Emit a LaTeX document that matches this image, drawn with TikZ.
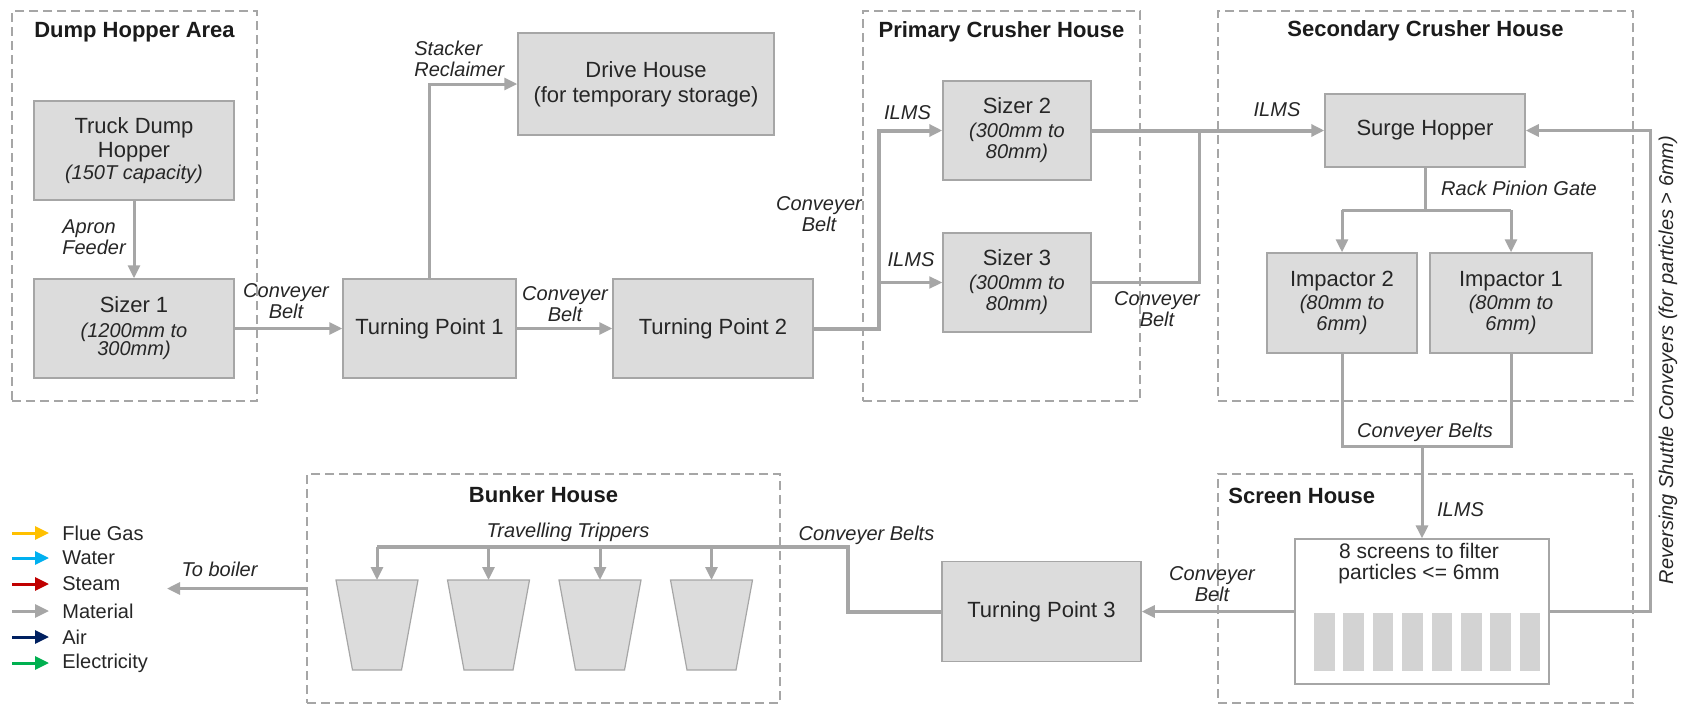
\documentclass[tikz,border=0pt]{standalone}
\usepackage{fontspec}
\setmainfont{Liberation Sans}
\usetikzlibrary{arrows.meta}

\definecolor{boxfill}{HTML}{DCDCDC}
\definecolor{boxline}{HTML}{A6A6A6}
\definecolor{flowgray}{HTML}{A6A6A6}
\definecolor{txt}{HTML}{262626}
\definecolor{barfill}{HTML}{D3D3D3}
\definecolor{fluegas}{HTML}{FFC000}
\definecolor{water}{HTML}{00B0F0}
\definecolor{steam}{HTML}{C00000}
\definecolor{air}{HTML}{002060}
\definecolor{electricity}{HTML}{00B050}

% italic size range shown under a unit name
\newcommand\subln[1]{{\fontsize{10}{10}\selectfont\itshape #1}}

\begin{document}
\begin{tikzpicture}[
  x=0.5pt, y=-0.5pt,
  box/.style={draw=boxline, fill=boxfill, line width=0.75pt, inner sep=0pt,
    align=center, text=txt, font=\fontsize{11}{11}\selectfont},
  area/.style={draw=boxline, dash pattern=on 4.5pt off 2.5pt, line width=0.9pt, inner sep=0pt},
  areatitle/.style={font=\fontsize{11}{11}\selectfont\bfseries, text=txt!70!black, inner sep=0pt},
  lbl/.style={font=\fontsize{10}{10.5}\selectfont\itshape, text=txt, inner sep=0pt, align=center},
  matline/.style={draw=flowgray, line width=1.5pt},
  matthick/.style={draw=flowgray, line width=2pt},
  matthin/.style={draw=flowgray, line width=1.1pt},
  endarrow/.style={-{Triangle[length=6.5pt,width=6pt]}},
  legtxt/.style={font=\fontsize{10}{10}\selectfont, text=txt, inner sep=0pt, anchor=west},
  legarrow/.style={line width=1.5pt, -{Triangle[length=7pt,width=6.5pt]}},
  binshape/.style={draw=boxline, fill=boxfill, line width=0.6pt},
]
\useasboundingbox (0,0) rectangle (1686,707);
\fill[white] (0,0) rectangle (1686,707);

% ---------- buildings (dashed outlines) ----------
\node[area, minimum width=122.5pt, minimum height=195pt] (dumpArea) at (134.5,206) {};
\node[area, minimum width=138.5pt, minimum height=195pt] (primaryArea) at (1001.5,206) {};
\node[area, minimum width=207.5pt, minimum height=195pt] (secondaryArea) at (1425.5,206) {};
\node[area, minimum width=236.5pt, minimum height=114.5pt] (bunkerArea) at (543.5,588.5) {};
\node[area, minimum width=207.5pt, minimum height=114.5pt] (screenArea) at (1425.5,588.5) {};

\node[areatitle] (dumpTitle) at ([yshift=-11pt]dumpArea.north) {Dump Hopper Area};
\node[areatitle] (primaryTitle) at ([yshift=-11pt]primaryArea.north) {Primary Crusher House};
\node[areatitle] (secondaryTitle) at ([yshift=-10.5pt]secondaryArea.north) {Secondary Crusher House};
\node[areatitle] (bunkerTitle) at ([yshift=-11pt]bunkerArea.north) {Bunker House};
\node[areatitle, anchor=west] (screenTitle) at (1228,496) {Screen House};

% ---------- process units ----------
\node[box, minimum width=100pt, minimum height=49.5pt] (truck) at (134,150.5)
  {Truck Dump\\[1pt]Hopper\\\subln{(150T capacity)}};
\node[box, minimum width=100pt, minimum height=49.5pt] (sizer1) at (134,328.5)
  {Sizer 1\\[1.5pt]\subln{(1200mm to}\\[-2pt]\subln{300mm)}};
\node[box, minimum width=86.5pt, minimum height=49.5pt] (tp1) at (429.5,328.5) {Turning Point 1};
\node[box, minimum width=128pt, minimum height=51pt] (drive) at (646,84)
  {Drive House\\[1.5pt](for temporary storage)};
\node[box, minimum width=100pt, minimum height=49.5pt] (tp2) at (713,328.5) {Turning Point 2};
\node[box, minimum width=74pt, minimum height=49.5pt] (sizer2) at (1017,130.5)
  {Sizer 2\\[1pt]\subln{(300mm to}\\[-0.5pt]\subln{80mm)}};
\node[box, minimum width=74pt, minimum height=49.5pt] (sizer3) at (1017,282.5)
  {Sizer 3\\[1pt]\subln{(300mm to}\\[-0.5pt]\subln{80mm)}};
\node[box, minimum width=100pt, minimum height=36.5pt] (surge) at (1425,130.5) {Surge Hopper};
\node[box, minimum width=75pt, minimum height=50pt] (imp2) at (1342,303)
  {Impactor 2\\[0.5pt]\subln{(80mm to}\\[-0.5pt]\subln{6mm)}};
\node[box, minimum width=81pt, minimum height=50pt] (imp1) at (1511,303)
  {Impactor 1\\[0.5pt]\subln{(80mm to}\\[-0.5pt]\subln{6mm)}};
\node[draw=boxline, fill=white, line width=0.6pt, minimum width=127pt, minimum height=72.5pt,
  inner sep=0pt] (screens) at (1422,611.5) {};
\node[font=\fontsize{10.5}{10.5}\selectfont, text=txt, align=center, inner sep=0pt]
  (screensTxt) at (1419,563.5) {8 screens to filter\\particles <= 6mm};
\foreach \i in {0,...,7}
  \fill[barfill] ({1314+29.4*\i},613) rectangle ++(20.5,58);
\node[box, minimum width=99.5pt, minimum height=50pt] (tp3) at (1041.5,611.5) {Turning Point 3};

% coal bunkers: tapered bins, named by the middle of their top edge
\coordinate (bin1) at (377,580);
\coordinate (bin2) at (488.5,580);
\coordinate (bin3) at (600,580);
\coordinate (bin4) at (711.5,580);
\foreach \b in {bin1,bin2,bin3,bin4}
  \draw[binshape] ([xshift=-20.5pt]\b) -- ([xshift=20.5pt]\b)
    -- ([xshift=12.25pt,yshift=-45pt]\b) -- ([xshift=-12.25pt,yshift=-45pt]\b) -- cycle;

% ---------- material flow ----------
\draw[matline, endarrow] (truck) -- (sizer1);
\draw[matline, endarrow] (sizer1) -- (tp1);
\draw[matline, endarrow] (tp1.north) |- (drive.west);
\draw[matline, endarrow] (tp1) -- (tp2);

\coordinate (splitA) at (879,328.5);
\draw[matthick, endarrow] (tp2.east) -- (splitA) |- (sizer2.west);
\draw[matthin, endarrow] (splitA |- sizer3.west) -- (sizer3.west);

\coordinate (joinA) at (1199,130.5);
\draw[matthick, endarrow] (sizer2.east) -- (surge.west);
\draw[matline] (sizer3.east) -| (joinA);

\coordinate (gateA) at (1425,210);
\draw[matline] (surge.south) -- (gateA);
\draw[matline] (imp2.north |- gateA) -- (imp1.north |- gateA);
\draw[matline, endarrow] (imp2.north |- gateA) -- (imp2.north);
\draw[matline, endarrow] (imp1.north |- gateA) -- (imp1.north);

\coordinate (collectA) at (1422,446);
\draw[matline] (imp2.south) |- (collectA) -| (imp1.south);
\draw[matline, endarrow] (collectA) -- (screens.north);

\draw[matline, endarrow] (screens.west) -- (tp3.east);
\coordinate (shuttleA) at (1650,611.5);
\draw[matline, endarrow] (screens.east) -- (shuttleA) |- (surge.east);

\coordinate (tripR) at (848,547);
\coordinate (tripL) at (377,547);
\draw[matthick] (tp3.west) -| (tripR) -- (tripL);
\foreach \b in {bin1,bin2,bin3,bin4}
  \draw[matline, endarrow] (\b |- tripL) -- (\b);

\coordinate (boilerEnd) at (167,588.5);
\draw[matline, endarrow] (bunkerArea.west) -- (boilerEnd);

% ---------- connector labels ----------
\node[lbl, anchor=west, align=left] (apronLbl) at (62,237) {Apron\\Feeder};
\node[lbl] (beltA) at (286,301.5) {Conveyer\\Belt};
\node[lbl, anchor=west, align=left] (stackerLbl) at (414,59) {Stacker\\Reclaimer};
\node[lbl] (beltB) at (565,304.5) {Conveyer\\Belt};
\node[lbl] (beltC) at (819,214) {Conveyer\\Belt};
\node[lbl] (ilmsA) at (907.5,113) {ILMS};
\node[lbl] (ilmsB) at (911,260) {ILMS};
\node[lbl] (ilmsC) at (1277,110) {ILMS};
\node[lbl] (beltD) at (1157,309) {Conveyer\\Belt};
\node[lbl] (rackLbl) at (1519,188) {Rack Pinion Gate};
\node[lbl] (beltsE) at (1425,432) {Conveyer Belts};
\node[lbl] (ilmsD) at (1460.5,510) {ILMS};
\node[lbl] (beltF) at (1212,584.5) {Conveyer\\Belt};
\node[lbl] (beltsG) at (866.5,535) {Conveyer Belts};
\node[lbl] (trippersLbl) at (568,532) {Travelling Trippers};
\node[lbl] (boilerLbl) at (219.5,569) {To boiler};
\node[lbl, rotate=90] (shuttleLbl) at (1668,360) {Reversing Shuttle Conveyers (for particles > 6mm)};

% ---------- legend ----------
\node[legtxt] (lgFlue) at (62,533) {Flue Gas};
\node[legtxt] (lgWater) at (62,558) {Water};
\node[legtxt] (lgSteam) at (62,584) {Steam};
\node[legtxt] (lgMat) at (62,611) {Material};
\node[legtxt] (lgAir) at (62,637) {Air};
\node[legtxt] (lgElec) at (62,663) {Electricity};
\draw[legarrow, fluegas] ([xshift=-25pt]lgFlue.west) -- ([xshift=-6.5pt]lgFlue.west);
\draw[legarrow, water] ([xshift=-25pt]lgWater.west) -- ([xshift=-6.5pt]lgWater.west);
\draw[legarrow, steam] ([xshift=-25pt]lgSteam.west) -- ([xshift=-6.5pt]lgSteam.west);
\draw[legarrow, flowgray] ([xshift=-25pt]lgMat.west) -- ([xshift=-6.5pt]lgMat.west);
\draw[legarrow, air] ([xshift=-25pt]lgAir.west) -- ([xshift=-6.5pt]lgAir.west);
\draw[legarrow, electricity] ([xshift=-25pt]lgElec.west) -- ([xshift=-6.5pt]lgElec.west);
\end{tikzpicture}
\end{document}
